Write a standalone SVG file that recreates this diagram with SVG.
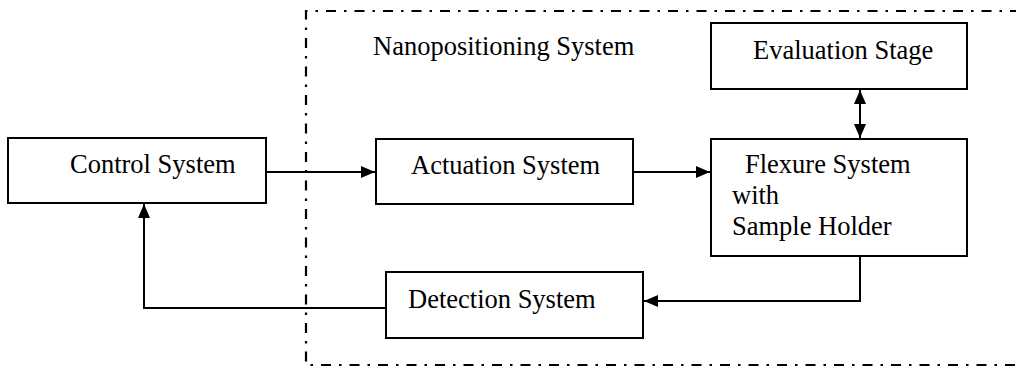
<svg xmlns="http://www.w3.org/2000/svg" width="1016" height="368" viewBox="0 0 1016 368">
  <style>
    .box { fill: #ffffff; stroke: #000000; stroke-width: 2; }
    .lbl { font-family: "Liberation Serif", "Times New Roman", serif; font-size: 26.5px; fill: #000000; }
    .conn { fill: none; stroke: #000000; stroke-width: 2; }
    .frame { fill: none; stroke: #000000; stroke-width: 2.2; stroke-dasharray: 10 8 2.5 8; }
  </style>
  <defs>
    <marker id="arrow" markerUnits="userSpaceOnUse" viewBox="0 0 14 12" refX="14" refY="6" markerWidth="14" markerHeight="12" orient="auto-start-reverse">
      <path d="M0,0 L14,6 L0,12 Z" fill="#000000"/>
    </marker>
  </defs>

  <g id="frame">
    <path class="frame" d="M1020 11 H306 V365 H1020"/>
    <text class="lbl" x="373" y="55">Nanopositioning System</text>
  </g>

  <g id="connectors">
    <path class="conn" d="M266 172 H375" marker-end="url(#arrow)"/>
    <path class="conn" d="M633 172 H710" marker-end="url(#arrow)"/>
    <path class="conn" d="M860 90 V138" marker-start="url(#arrow)" marker-end="url(#arrow)"/>
    <path class="conn" d="M860 256 V301 H644" marker-end="url(#arrow)"/>
    <path class="conn" d="M386 308 H144 V204" marker-end="url(#arrow)"/>
  </g>

  <g id="control">
    <rect class="box" x="8" y="138" width="258" height="65"/>
    <text class="lbl" x="70" y="173">Control System</text>
  </g>

  <g id="actuation">
    <rect class="box" x="376" y="139" width="257" height="65"/>
    <text class="lbl" x="411" y="174">Actuation System</text>
  </g>

  <g id="evaluation">
    <rect class="box" x="711" y="23" width="256" height="66"/>
    <text class="lbl" x="753" y="59">Evaluation Stage</text>
  </g>

  <g id="flexure">
    <rect class="box" x="711" y="139" width="256" height="117"/>
    <text class="lbl" x="745" y="173">Flexure System</text>
    <text class="lbl" x="732" y="204">with</text>
    <text class="lbl" x="732" y="235">Sample Holder</text>
  </g>

  <g id="detection">
    <rect class="box" x="386" y="272" width="257" height="66"/>
    <text class="lbl" x="408" y="308">Detection System</text>
  </g>
</svg>
